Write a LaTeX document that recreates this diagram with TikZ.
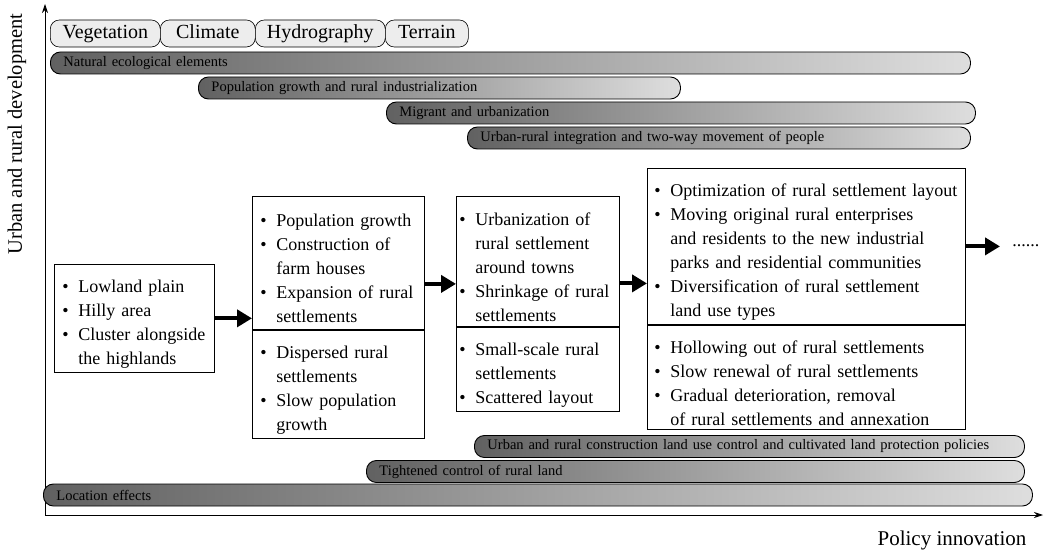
\documentclass[tikz,border=0pt]{standalone}
\usepackage{fontspec}
\setmainfont{Liberation Serif}
\usetikzlibrary{arrows.meta}

\tikzstyle{tag} = [rectangle, rounded corners=9pt, draw=black, fill=black!7, minimum height=27pt, inner xsep=0pt, text height=14pt, text depth=4pt, text centered, font=\fontsize{20}{22}\selectfont, anchor=west]
\tikzstyle{bar} = [rectangle, rounded corners=10pt, draw=black, line width=0.9pt, left color=black!62, middle color=black!24, right color=black!13, minimum height=22pt, inner xsep=13pt, inner ysep=0pt, align=left, font=\fontsize{14.5}{16}\selectfont, anchor=west]
\tikzstyle{blk} = [rectangle, draw=black, line width=0.8pt, inner xsep=8pt, inner ysep=4pt, align=left, font=\fontsize{18}{24}\selectfont, anchor=north west]
\tikzstyle{step arrow} = [-{Triangle[length=15pt,width=17pt]}, line width=4pt]

\newcommand\itm{\par\hangindent=16pt\hangafter=1\noindent\hbox to 16pt{\textbullet\hfil}}
\hyphenpenalty=10000

\begin{document}
\begin{tikzpicture}[x=1pt, y=-1pt, semithick]
\useasboundingbox (0,0) rectangle (1048,553);

% axes
\coordinate (Origin) at (45,515);
\coordinate (YEnd) at (45,4);
\coordinate (XEnd) at (1043,515);
\draw[-{Stealth[length=9pt,width=6pt]}, line width=0.9pt] (Origin) -- (YEnd);
\draw[-{Stealth[length=9pt,width=6pt]}, line width=0.9pt] (Origin) -- (XEnd);
\node[rotate=90, font=\fontsize{20.5}{24}\selectfont] (YLabel) at (17,134) {Urban and rural development};
\node[anchor=east, font=\fontsize{21}{24}\selectfont] (XLabel) at (1030,540) {Policy innovation};

% natural elements
\node[tag, minimum width=110pt] (Vegetation) at (50,33.5) {Vegetation};
\node[tag, minimum width=95pt] (Climate) at (160,33.5) {Climate};
\node[tag, minimum width=130pt] (Hydrography) at (255,33.5) {Hydrography};
\node[tag, minimum width=83pt] (Terrain) at (385,33.5) {Terrain};

% driving forces
\node[bar, text width=894pt] (BarNatural) at (50,63) {Natural ecological elements};
\node[bar, text width=456pt] (BarPopulation) at (198,88) {Population growth and rural industrialization};
\node[bar, text width=563pt] (BarMigrant) at (386,113) {Migrant and urbanization};
\node[bar, text width=477pt] (BarIntegration) at (467,138) {Urban-rural integration and two-way movement of people};

\node[bar, text width=524pt] (BarLandUse) at (474,446.5) {Urban and rural construction land use control and cultivated land protection policies};
\node[bar, text width=632pt] (BarTightened) at (366,471.5) {Tightened control of rural land};
\node[bar, text width=963pt] (BarLocation) at (43,495) {Location effects};

% stages
\node[blk, text width=144pt, minimum height=99pt] (LowlandBox) at (54,264)
  {\itm Lowland plain \itm Hilly area \itm Cluster alongside\newline the highlands\par};

\node[blk, text width=156pt, minimum height=133pt] (GrowthTop) at (252,196)
  {\itm Population growth \itm Construction of\newline farm houses \itm Expansion of rural\newline settlements\par};
\node[blk, text width=156pt, minimum height=104pt] (GrowthBottom) at (GrowthTop.south west)
  {\itm Dispersed rural\newline settlements \itm Slow population\newline growth\par};

\node[blk, inner xsep=3pt, text width=157pt, minimum height=130pt] (UrbanTop) at (456,196)
  {\itm Urbanization of\newline rural settlement\newline around towns \itm Shrinkage of rural\newline settlements\par};
\node[blk, inner xsep=3pt, text width=157pt, minimum height=84pt] (UrbanBottom) at (UrbanTop.south west)
  {\itm Small-scale rural\newline settlements \itm Scattered layout\par};

\node[blk, inner xsep=7pt, text width=304pt, minimum height=156pt] (OptTop) at (647,168)
  {\itm \mbox{Optimization of rural settlement layout} \itm Moving original rural enterprises\newline and residents to the new industrial\newline parks and residential communities \itm Diversification of rural settlement\newline land use types\par};
\node[blk, inner xsep=7pt, text width=304pt, minimum height=102pt] (OptBottom) at (OptTop.south west)
  {\itm Hollowing out of rural settlements \itm Slow renewal of rural settlements \itm Gradual deterioration, removal\newline of rural settlements and annexation\par};

\node[anchor=west, inner xsep=12pt, font=\fontsize{18}{24}\selectfont] (More) at (1000,246) {......};

\coordinate (BC) at ([yshift=-21pt]GrowthTop.east);
\coordinate (CD) at ([yshift=-22pt]UrbanTop.east);

\path[step arrow]
    (LowlandBox.east) edge (LowlandBox.east -| GrowthTop.west)
    (BC) edge (BC -| UrbanTop.west)
    (CD) edge (CD -| OptTop.west)
    (OptTop.east) edge (OptTop.east -| More.west)
    ;

\end{tikzpicture}
\end{document}
